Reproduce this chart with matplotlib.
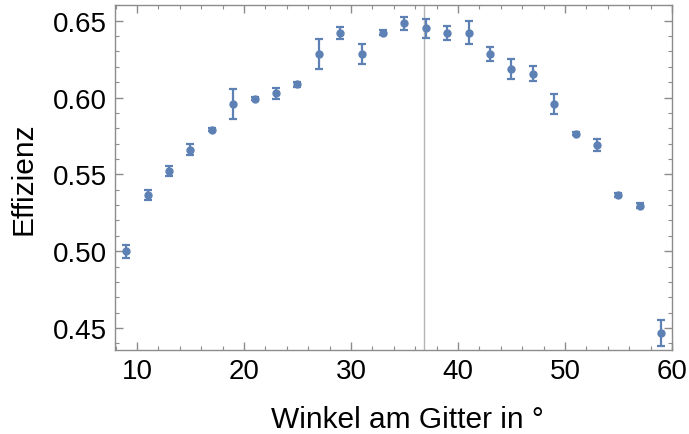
"""Efficiency vs. grating angle with error bars (Mathematica-style frame)."""

import matplotlib.pyplot as plt
from matplotlib.ticker import MultipleLocator

plt.rcParams['font.family'] = ['Liberation Sans', 'DejaVu Sans']

# data
angle = [9, 11, 13, 15, 17, 19, 21, 23, 25, 27, 29, 31, 33,
         35, 37, 39, 41, 43, 45, 47, 49, 51, 53, 55, 57, 59]
efficiency = [0.500, 0.5365, 0.5523, 0.566, 0.579, 0.5958, 0.5992, 0.6027,
              0.6086, 0.6283, 0.6422, 0.6283, 0.6422, 0.6483, 0.645, 0.6422,
              0.6422, 0.6283, 0.6186, 0.6155, 0.5958, 0.5763, 0.5693, 0.5365,
              0.5296, 0.4467]
error = [0.0043, 0.0033, 0.0033, 0.0037, 0.001, 0.0098, 0.001, 0.0037,
         0.0015, 0.0099, 0.004, 0.0064, 0.0015, 0.0043, 0.0064, 0.0045,
         0.0073, 0.0043, 0.0067, 0.0048, 0.0064, 0.001, 0.0039, 0.0015,
         0.0015, 0.0087]
marker_angle = 36.8

blue = '#5E81B5'
frame = '#8c8c8c'

fig = plt.figure(figsize=(6.89, 4.35), dpi=100)
ax = fig.add_axes([0.1669, 0.1931, 0.8084, 0.7931])

ax.axvline(marker_angle, color='#b4b4b4', linewidth=1.0, zorder=1)
ax.errorbar(angle, efficiency, yerr=error, fmt='o', color=blue,
            markersize=5.0, elinewidth=1.6, capsize=3, capthick=1.6, zorder=3)

ax.set_xlim(7.95, 60.0)
ax.set_ylim(0.4357, 0.6602)
ax.xaxis.set_major_locator(MultipleLocator(10))
ax.xaxis.set_minor_locator(MultipleLocator(2))
ax.yaxis.set_major_locator(MultipleLocator(0.05))
ax.yaxis.set_minor_locator(MultipleLocator(0.01))
ax.yaxis.set_major_formatter(lambda v, p: f'{v:.2f}')

for spine in ax.spines.values():
    spine.set_color(frame)
    spine.set_linewidth(1.0)
ax.tick_params(which='both', direction='in', top=True, right=True,
               color=frame, labelsize=20, labelcolor='black')
ax.tick_params(which='major', length=5.5, width=1.0, pad=6)
ax.tick_params(which='minor', length=3, width=0.8)

ax.set_xlabel('Winkel am Gitter in °', fontsize=21.5)
ax.xaxis.label.set_verticalalignment('baseline')
ax.xaxis.set_label_coords(0.525, -0.222)
ax.set_ylabel('Effizienz', fontsize=21.5, labelpad=11)

fig.savefig('out.png', dpi=100)
plt.close(fig)
